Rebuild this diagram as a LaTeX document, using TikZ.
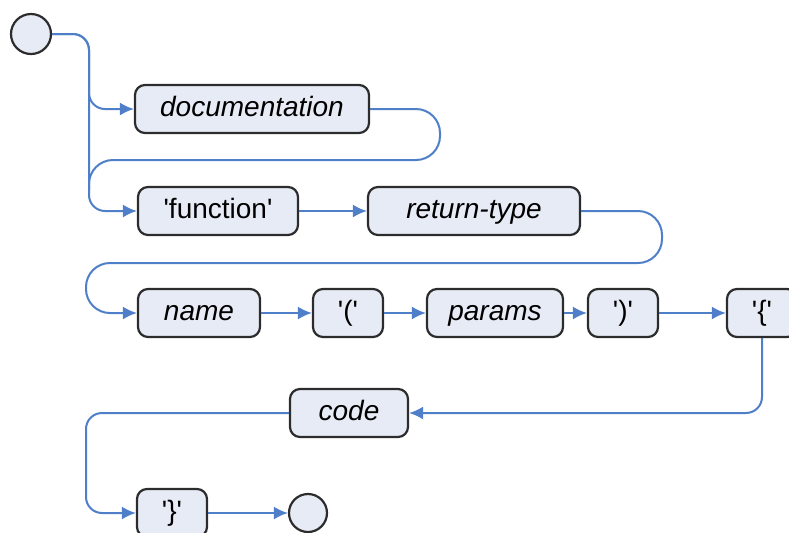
\documentclass[tikz,border=0pt]{standalone}
\usepackage{fontspec}
\setmainfont{Liberation Sans}
\usepackage{tikz}
\usetikzlibrary{arrows.meta,positioning}
\definecolor{RailBlue}{HTML}{4F7FC9}
\definecolor{BoxFill}{HTML}{E7EBF5}
\definecolor{BoxInk}{HTML}{2C2C2C}
\newcommand{\q}[1]{\textquotesingle#1\textquotesingle}

\begin{document}
\begin{tikzpicture}[x=0.5pt, y=-0.5pt,
  term/.style={rounded corners=5pt, draw=BoxInk, line width=1.1pt,
               fill=BoxFill, minimum height=24pt, inner sep=2pt,
               text height=10pt, text depth=3pt,
               font=\fontsize{14}{16}\selectfont},
  nonterm/.style={term, font=\fontsize{14}{16}\selectfont\itshape},
  endpoint/.style={circle, draw=BoxInk, line width=1.1pt, fill=BoxFill,
                   minimum size=20pt, inner sep=0pt},
  link/.style={-{Latex[length=7pt,width=6.5pt]}, line width=1pt,
               draw=RailBlue, rounded corners=8pt},
  plain/.style={line width=1pt, draw=RailBlue, rounded corners=8pt}
]
\useasboundingbox (0,0) rectangle (789,532);
\clip (0,0) rectangle (789,532);
\node[endpoint] (start) at (31,34) {};
\node[nonterm, minimum width=117pt] (doc) at (252,109) {documentation};
\node[term, minimum width=80pt] (func) at (218,211) {\q{function}};
\node[nonterm, minimum width=106pt] (ret) at (474,211) {return-type};
\node[nonterm, minimum width=61pt] (name) at (199,313) {name};
\node[term, minimum width=35pt] (lpar) at (348,313) {\q{(}};
\node[nonterm, minimum width=68pt] (params) at (495,313) {params};
\node[term, minimum width=35pt] (rpar) at (623,313) {\q{)}};
\node[term, minimum width=35pt] (lbrace) at (762,313) {\q{\{}};
\node[nonterm, minimum width=59pt] (code) at (349,413) {code};
\node[term, minimum width=35pt] (rbrace) at (172,513) {\q{\}}};
\node[endpoint, minimum size=19pt] (stop) at (308,513) {};
\draw[link] (start.east) -- (89,34) -- (89,109) -- (doc.west);
\draw[link] (start.east) -- (89,34) -- (89,211) -- (func.west);
\draw[plain, rounded corners=12pt] (doc.east) -- (440,109) -- (440,160) -- (89,160) -- (89,190);
\draw[link] (func) -- (ret);
\draw[link, rounded corners=12pt] (ret.east) -- (662,211) -- (662,263)
  -- (86,263) -- (86,313) -- (name.west);
\draw[link] (name) -- (lpar);
\draw[link] (lpar) -- (params);
\draw[link] (params) -- (rpar);
\draw[link] (rpar) -- (lbrace);
\draw[link] (lbrace.south) -- (762,413) -- (code.east);
\draw[link] (code.west) -- (86,413) -- (86,513) -- (rbrace.west);
\draw[link] (rbrace) -- (stop);
\end{tikzpicture}
\end{document}
